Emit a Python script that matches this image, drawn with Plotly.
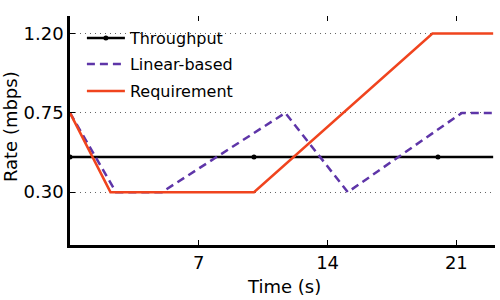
import plotly.graph_objects as go

# Data
thr_x = [0, 10, 20, 23]
thr_y = [0.5, 0.5, 0.5, 0.5]
thr_marker_x = [0, 10, 20]
thr_marker_y = [0.5, 0.5, 0.5]

lin_x = [0, 2.5, 5.0, 11.7, 15.1, 21.3, 23]
lin_y = [0.75, 0.30, 0.30, 0.75, 0.30, 0.75, 0.75]

req_x = [0, 2.2, 10.0, 19.7, 23]
req_y = [0.75, 0.30, 0.30, 1.20, 1.20]

x_ticks = [7, 14, 21]
y_ticks = [0.30, 0.75, 1.20]
y_tick_labels = ["0.30", "0.75", "1.20"]

FONT = "DejaVu Sans"
BLACK = "black"
PURPLE = "#5e35a8"
ORANGE = "#f0441e"
DASH = "8px,5px"

fig = go.Figure()
fig.add_trace(go.Scatter(x=thr_x, y=thr_y, mode="lines", name="Throughput",
                         line=dict(color=BLACK, width=2.5), showlegend=False))
fig.add_trace(go.Scatter(x=thr_marker_x, y=thr_marker_y, mode="markers",
                         marker=dict(color=BLACK, size=5), showlegend=False))
fig.add_trace(go.Scatter(x=lin_x, y=lin_y, mode="lines", name="Linear-based",
                         line=dict(color=PURPLE, width=2.5, dash=DASH), showlegend=False))
fig.add_trace(go.Scatter(x=req_x, y=req_y, mode="lines", name="Requirement",
                         line=dict(color=ORANGE, width=2.5), showlegend=False))

# legend proxies, each in its own legend for exact placement
fig.add_trace(go.Scatter(x=[None], y=[None], mode="lines+markers", name="Throughput",
                         line=dict(color=BLACK, width=2.5), marker=dict(color=BLACK, size=5),
                         legend="legend"))
fig.add_trace(go.Scatter(x=[None], y=[None], mode="lines", name="Linear-based",
                         line=dict(color=PURPLE, width=2.5, dash=DASH), legend="legend2"))
fig.add_trace(go.Scatter(x=[None], y=[None], mode="lines", name="Requirement",
                         line=dict(color=ORANGE, width=2.5), legend="legend3"))
# top mirrored ticks
fig.add_trace(go.Scatter(x=[None], y=[None], xaxis="x2", showlegend=False))

def leg(y):
    return dict(x=0.028, y=y, xanchor="left", yanchor="middle",
                bgcolor="rgba(0,0,0,0)", font=dict(size=16, family=FONT, color=BLACK),
                itemwidth=38)

fig.update_layout(
    width=500, height=300,
    margin=dict(l=70, r=5, t=16, b=55),
    paper_bgcolor="white", plot_bgcolor="white",
    font=dict(family=FONT, size=16, color=BLACK),
    legend=leg(0.904), legend2=leg(0.790), legend3=leg(0.672),
    xaxis=dict(range=[0, 23.1], tickvals=x_ticks, ticks="inside", ticklen=5,
               tickcolor=BLACK, showline=True, linecolor=BLACK, linewidth=2.5,
               showgrid=False, zeroline=False, automargin=False,
               tickfont=dict(size=18, family=FONT)),
    xaxis2=dict(range=[0, 23.1], tickvals=x_ticks, ticks="inside", ticklen=5,
                tickcolor=BLACK, overlaying="x", side="top", anchor="y",
                showticklabels=False, showline=False, showgrid=False, zeroline=False),
    yaxis=dict(range=[0, 1.3], tickvals=y_ticks, ticktext=y_tick_labels,
               ticks="inside", ticklen=5, tickcolor=BLACK,
               showline=True, linecolor=BLACK, linewidth=2.5,
               showgrid=True, gridcolor="#666666", gridwidth=1, griddash="1px,4px",
               zeroline=False, automargin=False,
               tickfont=dict(size=18, family=FONT)),
    annotations=[
        dict(text="Time (s)", xref="paper", yref="paper", x=0.504, y=-0.183,
             xanchor="center", yanchor="middle", showarrow=False,
             font=dict(size=18, family=FONT, color=BLACK)),
        dict(text="Rate (mbps)", xref="paper", yref="paper", x=-0.14, y=0.517,
             xanchor="center", yanchor="middle", showarrow=False, textangle=-90,
             font=dict(size=18, family=FONT, color=BLACK)),
    ],
)

fig.write_html("out.html", config={"displayModeBar": False},
               post_script="document.body.style.margin='0';document.body.style.padding='0';")
